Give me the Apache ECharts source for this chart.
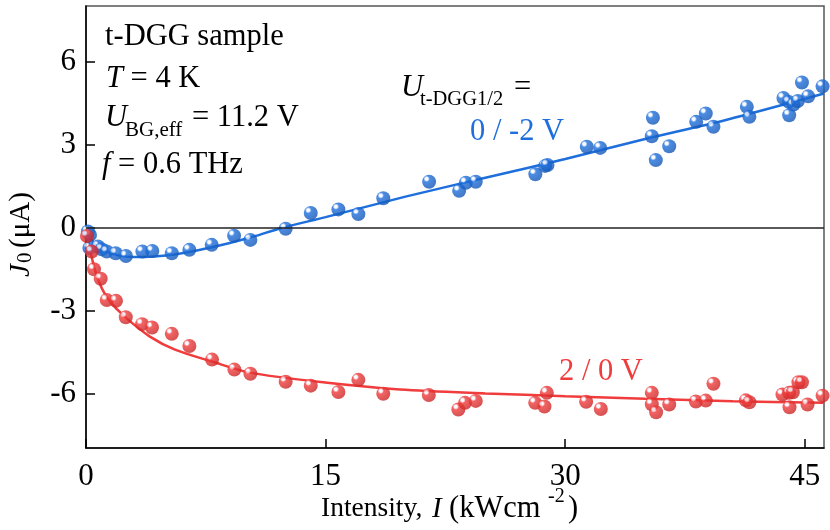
<!DOCTYPE html>
<html><head><meta charset="utf-8">
<script src="https://cdn.jsdelivr.net/npm/echarts@6/dist/echarts.min.js"></script>
<style>html,body{margin:0;padding:0;background:#fff}#c{width:830px;height:530px}</style>
</head><body><div id="c"></div>
<script>
// Data
const blueIntensity = [0.12,0.25,0.21,0.75,0.98,1.30,1.86,2.50,3.53,4.15,5.37,6.47,7.87,9.27,10.29,12.50,14.07,15.80,17.05,18.61,21.48,23.36,23.78,24.40,28.13,28.74,28.89,31.35,32.19,35.49,35.42,36.51,35.67,38.20,38.80,39.28,41.37,41.53,43.66,44.00,44.29,44.56,44.02,44.82,45.21,46.11];
const blueCurrent   = [-0.14,-0.26,-0.73,-0.68,-0.78,-0.86,-0.92,-1.02,-0.86,-0.84,-0.92,-0.80,-0.62,-0.29,-0.44,-0.04,0.53,0.66,0.49,1.06,1.66,1.33,1.62,1.66,1.93,2.23,2.26,2.92,2.88,3.97,3.30,2.94,2.44,3.82,4.12,3.64,4.36,4.00,4.68,4.54,4.44,4.57,4.06,5.24,4.74,5.10];
const redIntensity  = [0.06,0.36,0.50,0.92,1.30,1.88,2.49,3.51,4.13,5.37,6.47,7.89,9.29,10.29,12.50,14.07,15.80,17.05,18.61,21.46,23.31,23.73,24.40,28.12,28.85,28.70,31.31,32.23,35.42,35.42,35.69,36.51,38.18,38.80,39.28,41.31,41.53,43.60,44.02,44.25,44.04,44.60,44.82,45.17,46.11];
const redCurrent    = [-0.30,-0.86,-1.50,-1.84,-2.61,-2.64,-3.23,-3.48,-3.60,-3.83,-4.27,-4.76,-5.12,-5.27,-5.56,-5.70,-5.93,-5.49,-5.99,-6.04,-6.56,-6.32,-6.25,-6.32,-5.96,-6.45,-6.28,-6.54,-5.96,-6.37,-6.66,-6.38,-6.27,-6.24,-5.63,-6.23,-6.30,-6.02,-5.96,-5.94,-6.48,-5.58,-5.58,-6.38,-6.06];
const blueFitI = [0,0.5,1,2,3,4,5,6,7.5,9,10.5,12.3,15,20,25,30,35,40,45,46.2];
const blueFitJ = [-0.1,-0.55,-0.78,-1.0,-1.06,-1.05,-1.0,-0.92,-0.75,-0.55,-0.32,0,0.38,1.12,1.8,2.48,3.2,3.88,4.65,4.84];
const redFitI = [0,0.2,0.56,1.0,1.5,2.44,4.0,5.57,7.89,10.27,14.97,19.66,25,30,35,40.5,46.2];
const redFitJ = [0,-0.65,-1.52,-2.2,-2.66,-3.22,-3.93,-4.40,-4.83,-5.23,-5.59,-5.84,-5.98,-6.08,-6.17,-6.26,-6.32];
const xTicks = [0,15,30,45];
const yTicks = [-6,-3,0,3,6];

const BLUE = '#1e6fdc', RED = '#f03c3c';
const FONT = "'Liberation Serif', 'Times New Roman', serif";
const FS = 30.5;
const zip = (a,b) => a.map((v,i)=>[v,b[i]]);
function ball(base, dark){
  return new echarts.graphic.RadialGradient(0.32,0.3,0.75,[
    {offset:0,color:'#ffffff'},{offset:0.14,color:'#f4f8ff'},{offset:0.3,color:base},{offset:1,color:dark}]);
}
const chart = echarts.init(document.getElementById('c'), null, {renderer:'canvas'});
function txt(x,y,text,opt){
  return {type:'text',x:x,y:y,style:Object.assign({text:text,fontFamily:FONT,fontSize:FS,fill:'#000',align:'left',verticalAlign:'middle'},opt||{})};
}
const italicRich = {i:{fontStyle:'italic',fontFamily:FONT,fontSize:FS}};
chart.setOption({
  animation:false,
  grid:{left:86,right:6,top:6,bottom:82,show:true,borderColor:'#555',borderWidth:1.5},
  xAxis:{type:'value',min:0,max:46.2,
    axisLine:{show:true,onZero:false,lineStyle:{color:'#000',width:1.5}},
    axisTick:{show:true,inside:true,length:9,customValues:xTicks,lineStyle:{color:'#000',width:1.5}},
    axisLabel:{customValues:xTicks,fontFamily:FONT,fontSize:31,color:'#000',margin:13},
    splitLine:{show:false}},
  yAxis:{type:'value',min:-7.95,max:8,
    axisLine:{show:true,onZero:false,lineStyle:{color:'#000',width:1.5}},
    axisTick:{show:true,inside:true,length:9,customValues:yTicks,lineStyle:{color:'#000',width:1.5}},
    axisLabel:{customValues:yTicks,fontFamily:FONT,fontSize:31,color:'#000',margin:10},
    splitLine:{show:false}},
  series:[
    {type:'line',data:zip(blueFitI,blueFitJ),smooth:0.3,symbol:'none',lineStyle:{color:BLUE,width:2.5},z:2,
     markLine:{silent:true,symbol:'none',label:{show:false},lineStyle:{color:'#222',width:1.5,type:'solid'},data:[{yAxis:0}]}},
    {type:'line',data:zip(redFitI,redFitJ),smooth:0.3,symbol:'none',lineStyle:{color:RED,width:2.5},z:2},
    {type:'scatter',data:zip(blueIntensity,blueCurrent),symbolSize:14,itemStyle:{color:ball(BLUE,'#1456b4')},z:3},
    {type:'scatter',data:zip(redIntensity,redCurrent),symbolSize:14,itemStyle:{color:ball(RED,'#c92626')},z:3}
  ],
  graphic:[
    txt(105,37,'t-DGG sample'),
    txt(106,79,'{i|T} = 4 K',{rich:italicRich}),
    txt(105,118,'U',{fontStyle:'italic'}),
    txt(125,130,'BG,eff',{fontSize:21}),
    txt(192,118,'= 11.2 V'),
    txt(102,165,'{i|f} = 0.6 THz',{rich:italicRich}),
    txt(401,88,'U',{fontStyle:'italic'}),
    txt(420,100,'t-DGG1/2',{fontSize:20.5}),
    txt(514,88,'='),
    txt(470,132,'0 / -2 V',{fill:BLUE}),
    txt(559,372,'2 / 0 V',{fill:RED}),
    txt(321,509,'Intensity,',{fontSize:27.5}),
    txt(432,509,'I',{fontStyle:'italic',fontSize:29}),
    txt(449,509,'(kWcm',{fontSize:30.5}),
    txt(548,497,'-2',{fontSize:20}),
    txt(568,509,')',{fontSize:30.5}),
    {type:'group',x:21,y:228,rotation:Math.PI/2,children:[
      txt(-49,0,'J',{fontStyle:'italic',fontSize:29}),
      txt(-35,4,'0',{fontSize:21}),
      txt(-20,0,'(μA)',{fontSize:29})
    ]}
  ]
});
</script></body></html>
